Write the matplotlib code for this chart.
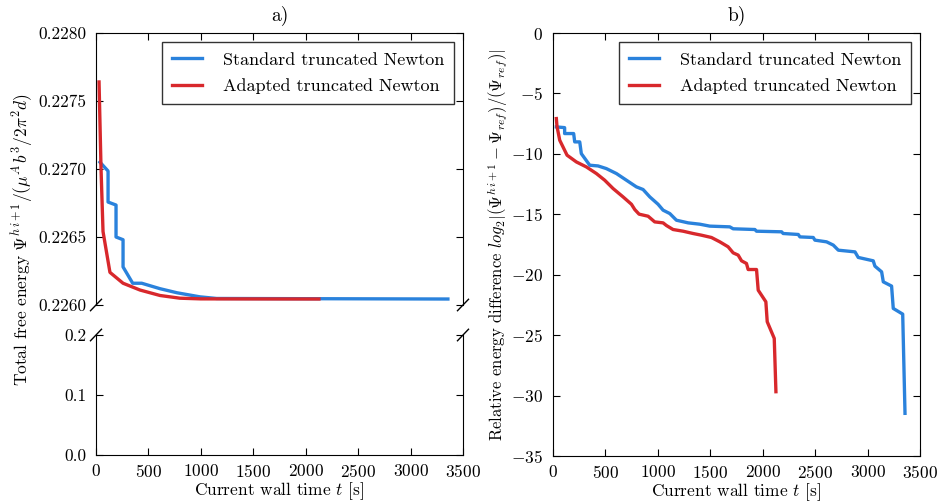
import matplotlib
matplotlib.use("Agg")
import matplotlib.pyplot as plt

plt.rcParams['font.family'] = 'serif'
plt.rcParams['font.serif'] = ['cmr10', 'DejaVu Serif']
plt.rcParams['mathtext.fontset'] = 'cm'
plt.rcParams['axes.formatter.use_mathtext'] = True
plt.rcParams['xtick.direction'] = 'in'
plt.rcParams['ytick.direction'] = 'in'

# panel a) total free energy
std_t = [38, 115, 115, 191, 191, 258, 258, 350, 436, 610, 772, 991, 1150, 3356]
std_e = [0.22705, 0.226985, 0.226757, 0.226735, 0.2265, 0.22648, 0.22628, 0.22616,
         0.22616, 0.22612, 0.22609, 0.22606, 0.226048, 0.226044]
adp_t = [29, 48, 67, 133, 258, 420, 610, 800, 1000, 2126]
adp_e = [0.22764, 0.2270, 0.22654, 0.22624, 0.22616, 0.22611, 0.22607, 0.22605,
         0.226045, 0.226044]

# panel b) relative energy difference
std_rt = [32, 111, 111, 197, 207, 255, 270, 350, 430, 509, 605, 700, 795, 859, 923,
          1002, 1050, 1114, 1177, 1289, 1400, 1495, 1686, 1718, 1925, 1941, 2180,
          2195, 2339, 2355, 2482, 2498, 2609, 2673, 2721, 2880, 2911, 3054, 3070,
          3134, 3150, 3229, 3245, 3335, 3357]
std_rv = [-7.77, -7.83, -8.32, -8.32, -9.01, -9.01, -9.98, -10.94, -11.0, -11.22,
          -11.63, -12.18, -12.73, -12.95, -13.56, -14.17, -14.66, -14.94, -15.49,
          -15.71, -15.82, -15.98, -16.04, -16.2, -16.26, -16.40, -16.45, -16.59,
          -16.67, -16.87, -16.92, -17.14, -17.28, -17.55, -17.97, -18.11, -18.57,
          -18.85, -19.29, -19.76, -20.59, -20.94, -22.79, -23.26, -31.47]
adp_rt = [32, 38, 64, 134, 223, 318, 414, 493, 573, 668, 748, 780, 821, 907, 970,
          1050, 1082, 1145, 1241, 1336, 1416, 1511, 1591, 1670, 1718, 1766, 1798,
          1845, 1861, 1941, 1957, 2030, 2043, 2110, 2126]
adp_rv = [-7.08, -7.72, -8.87, -10.11, -10.67, -11.08, -11.63, -12.18, -12.87, -13.56,
          -14.17, -14.61, -14.99, -15.16, -15.63, -15.71, -15.93, -16.26, -16.40,
          -16.59, -16.73, -16.92, -17.28, -17.69, -18.19, -18.38, -18.85, -19.07,
          -19.57, -19.57, -21.28, -22.24, -23.89, -25.27, -29.68]

labels = ['Standard truncated Newton', 'Adapted truncated Newton']
blue = '#2a82dc'
red = '#d8282c'

fig = plt.figure(figsize=(9.38, 5.04), dpi=100)
W, H = 938.0, 504.0
ax_top = fig.add_axes([96 / W, 1 - 305 / H, 367 / W, 272 / H])
ax_bot = fig.add_axes([96 / W, 1 - 455 / H, 367 / W, 120 / H])
ax_b = fig.add_axes([553 / W, 1 - 456 / H, 367 / W, 423 / H])

leg_kw = dict(loc='upper right', fontsize=13, fancybox=False, edgecolor='k',
              handlelength=1.65, handletextpad=1.15, borderpad=0.55,
              labelspacing=0.6, borderaxespad=0.5)

ax_top.plot(std_t, std_e, color=blue, lw=2.4, label=labels[0])
ax_top.plot(adp_t, adp_e, color=red, lw=2.4, label=labels[1])
ax_top.set_ylim(0.2260, 0.2280)
ax_top.set_yticks([0.2260, 0.2265, 0.2270, 0.2275, 0.2280])
ax_top.set_yticklabels(['0.2260', '0.2265', '0.2270', '0.2275', '0.2280'])
ax_bot.set_ylim(0.0, 0.2)
ax_bot.set_yticks([0.0, 0.1, 0.2])
ax_bot.set_yticklabels(['0.0', '0.1', '0.2'])
for ax in (ax_top, ax_bot):
    ax.set_xlim(0, 3500)
    ax.set_xticks(range(0, 3501, 500))
ax_top.spines['bottom'].set_visible(False)
ax_bot.spines['top'].set_visible(False)
ax_top.tick_params(axis='x', bottom=False, labelbottom=False, top=True)
ax_top.tick_params(axis='y', right=True)
ax_bot.tick_params(axis='x', top=False)
ax_bot.tick_params(axis='y', right=True)
ax_top.set_title('a)', fontsize=14, pad=9)

# break marks
d = 0.015
kw = dict(color='k', clip_on=False, lw=1)
for x in (0, 1):
    ax_top.plot([x - d, x + d], [-d * 1.4, d * 1.4], transform=ax_top.transAxes, **kw)
    ax_bot.plot([x - d, x + d], [1 - d * 3.2, 1 + d * 3.2], transform=ax_bot.transAxes, **kw)

leg = ax_top.legend(**leg_kw)
leg.get_frame().set_linewidth(1)

fig.text(22 / W, 1 - 240 / H,
         r'Total free energy $\Psi^{h\,i+1}/(\mu^A\,b^3/2\pi^2 d)$',
         rotation=90, ha='center', va='center', fontsize=12.5)

ax_b.plot(std_rt, std_rv, color=blue, lw=2.4, label=labels[0])
ax_b.plot(adp_rt, adp_rv, color=red, lw=2.4, label=labels[1])
ax_b.set_xlim(0, 3500)
ax_b.set_ylim(-35, 0)
ax_b.set_xticks(range(0, 3501, 500))
ax_b.set_yticks(range(-35, 1, 5))
ax_b.tick_params(top=True, right=True)
ax_b.set_title('b)', fontsize=14, pad=9)
leg = ax_b.legend(**leg_kw)
leg.get_frame().set_linewidth(1)

for ax in (ax_top, ax_bot, ax_b):
    ax.tick_params(labelsize=12.5, length=5)
    ax.tick_params(axis='y', pad=7)
    ax.tick_params(axis='x', pad=6)

ax_bot.set_xlabel('Current wall time $t$ [s]', fontsize=12.5, labelpad=0)
ax_b.set_xlabel('Current wall time $t$ [s]', fontsize=12.5, labelpad=0)
ax_b.set_ylabel(r'Relative energy difference $log_2|(\Psi^{h\,i+1}-\Psi_{ref})/(\Psi_{ref})|$',
                fontsize=12, labelpad=1)

fig.savefig('out.png', dpi=100)
